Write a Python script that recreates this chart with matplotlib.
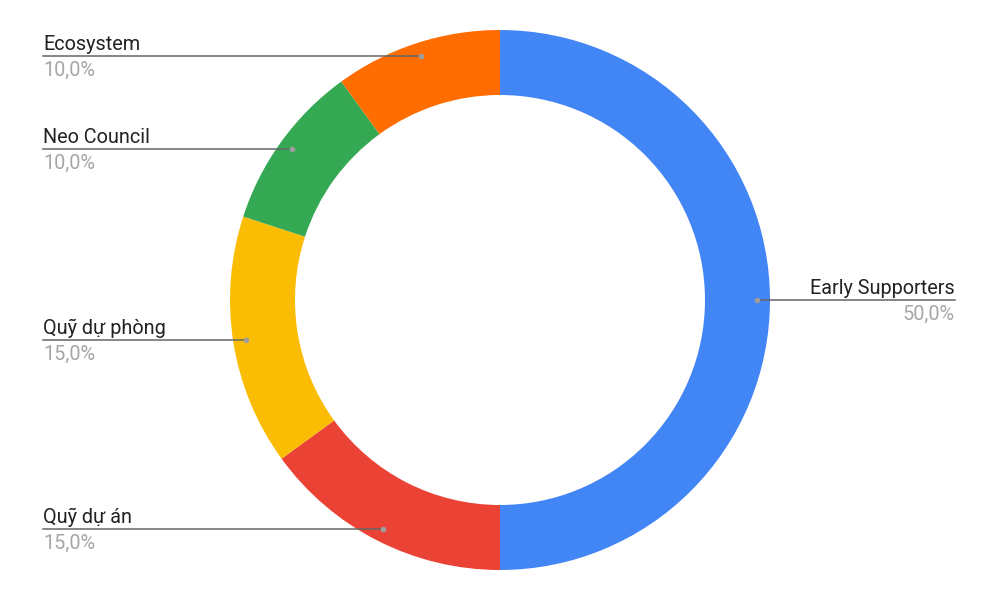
import matplotlib.pyplot as plt
import numpy as np

# dữ liệu
labels = ["Early Supporters", "Quỹ dự án", "Quỹ dự phòng", "Neo Council", "Ecosystem"]
values = [50, 15, 15, 10, 10]
colors = ["#4285F4", "#EA4335", "#FBBC04", "#34A853", "#FF6D01"]

plt.rcParams['font.family'] = ['Roboto', 'DejaVu Sans']

fig = plt.figure(figsize=(10, 6), dpi=100)
ax = fig.add_axes([0, 0, 1, 1])

cx, cy, R = 500, 300, 270
wedges, _ = ax.pie(values, colors=colors, startangle=90, counterclock=False,
                   center=(cx, cy), radius=R,
                   wedgeprops=dict(width=65, edgecolor='none'))

total = sum(values)
fs = 14.3
for w, lab, v in zip(wedges, labels, values):
    ang = np.deg2rad((w.theta1 + w.theta2) / 2)
    px = cx + 257 * np.cos(ang)
    py = cy + 257 * np.sin(ang)
    pct = f"{v / total * 100:.1f}%".replace(".", ",")
    ax.plot(px, py, 'o', ms=3, color='#9e9e9e', zorder=5)
    if px < cx:
        x0, ha = 43, 'left'
        ax.plot([x0, px], [py, py], color='#666666', lw=1.1, zorder=4)
    else:
        x0, ha = 955, 'right'
        ax.plot([px, x0], [py, py], color='#666666', lw=1.1, zorder=4)
    ax.text(x0, py + 6, lab, ha=ha, va='baseline', fontsize=fs, color='#222222')
    ax.text(x0, py - 20, pct, ha=ha, va='baseline', fontsize=fs, color='#a6a6a6')

ax.set_xlim(0, 1000)
ax.set_ylim(0, 600)
ax.set_aspect('auto')
ax.axis('off')

plt.savefig("out.png", dpi=100)
